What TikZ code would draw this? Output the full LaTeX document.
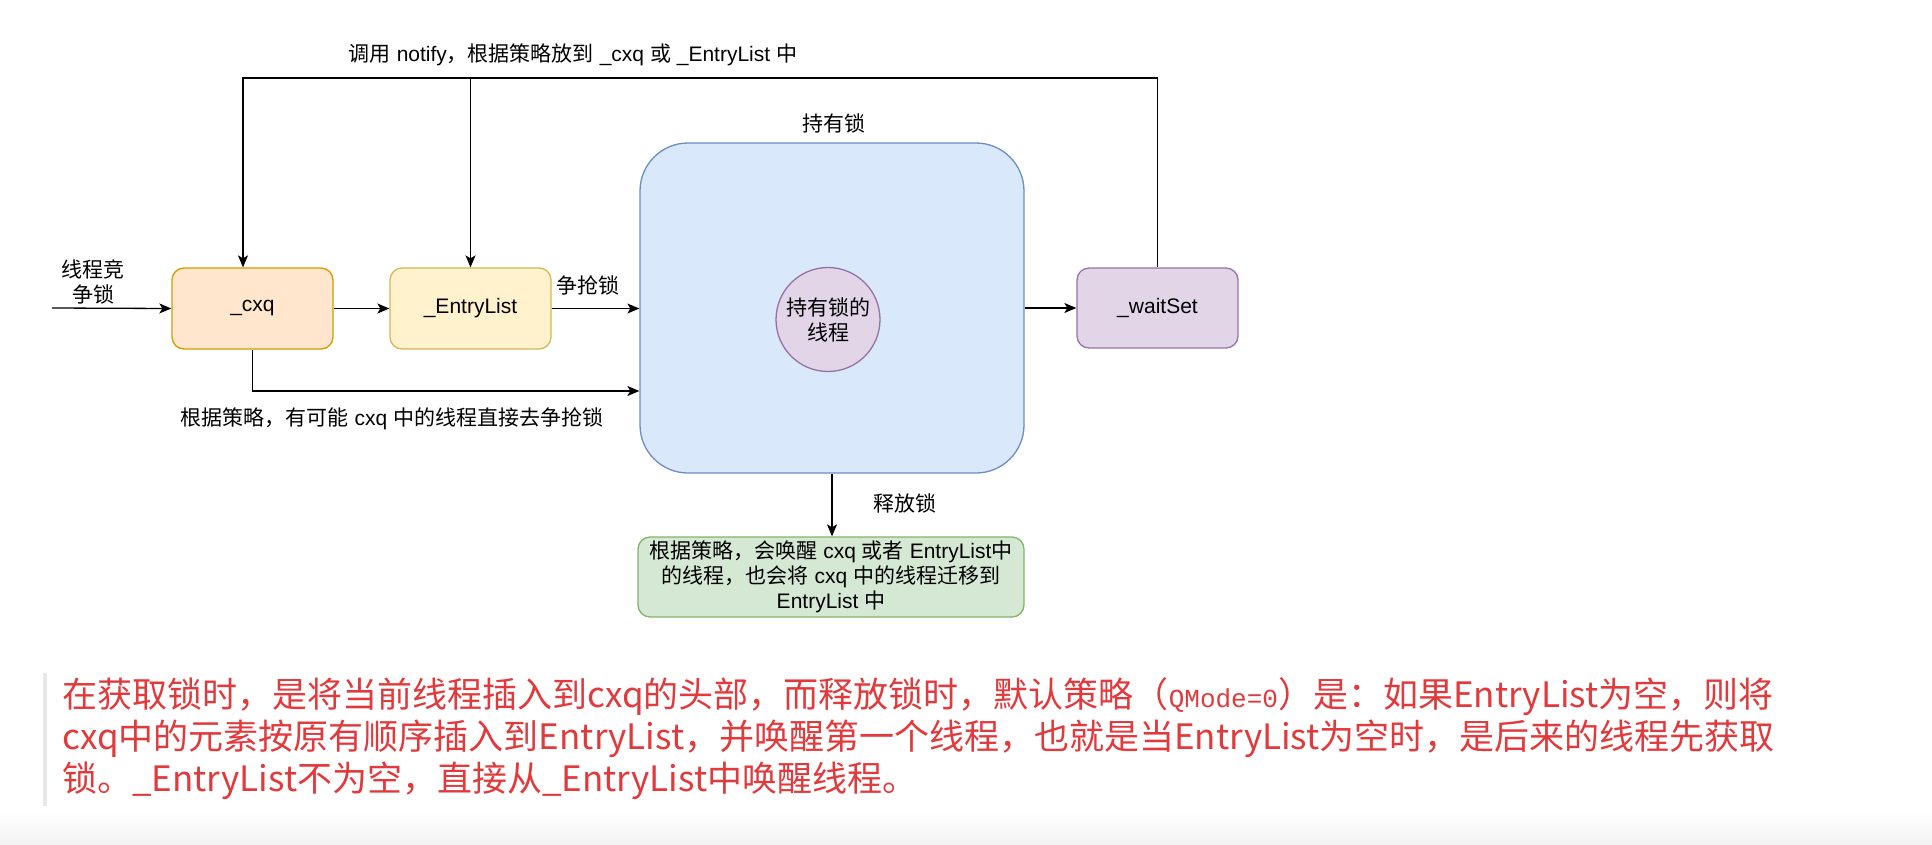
\documentclass[tikz,border=0pt]{standalone}
\usepackage{fontspec}
\setmainfont{Liberation Sans}
\newfontfamily\cjk{Noto Sans CJK SC}
\newfontfamily\monof{Liberation Mono}
\usetikzlibrary{arrows.meta,calc}
\newcommand\zh[1]{{\cjk #1}}
\definecolor{cxqfill}{HTML}{FFE6CC}
\definecolor{cxqdraw}{HTML}{D79B00}
\definecolor{elfill}{HTML}{FFF2CC}
\definecolor{eldraw}{HTML}{D6B656}
\definecolor{bigfill}{HTML}{DAE8FC}
\definecolor{bigdraw}{HTML}{6C8EBF}
\definecolor{purfill}{HTML}{E1D5E7}
\definecolor{purdraw}{HTML}{9673A6}
\definecolor{grfill}{HTML}{D5E8D4}
\definecolor{grdraw}{HTML}{82B366}
\definecolor{redtext}{HTML}{E2393C}
\tikzset{
  box/.style={rounded corners=12pt, line width=1.3pt, inner sep=0pt, align=center},
  lbl/.style={inner sep=0pt, align=center},
  conn/.style={line width=1.3pt, -{Stealth[length=12pt,width=10pt,inset=3pt]}},
  redline/.style={inner sep=0pt, anchor=west, text=redtext, font=\fontsize{35}{42}\selectfont\cjk},
}
\begin{document}
\begin{tikzpicture}[x=1pt,y=-1pt,font=\fontsize{21}{25}\selectfont]
\useasboundingbox (0,0) rectangle (1932,844);
\shade[top color=white,bottom color=black!5] (0,812) rectangle (1932,844);

% nodes
\node[box, fill=cxqfill, draw=cxqdraw, minimum width=161pt, minimum height=81pt] (cxq) at (252.5,308.5) {\_cxq};
\node[box, fill=elfill, draw=eldraw, minimum width=161pt, minimum height=81pt] (el) at (470.5,308.5) {\_EntryList};
\node[draw=bigdraw, fill=bigfill, line width=1.3pt, rounded corners=48pt, minimum width=384pt, minimum height=330pt, inner sep=0pt] (big) at (832,308) {};
\node[circle, fill=purfill, draw=purdraw, line width=1.3pt, minimum size=104pt, inner sep=0pt, align=center] (hold) at (828,319.5) {\zh{持有锁的}\\\zh{线程}};
\node[box, fill=purfill, draw=purdraw, minimum width=161pt, minimum height=80pt] (ws) at (1157.5,308) {\_waitSet};
\node[box, fill=grfill, draw=grdraw, minimum width=386pt, minimum height=80pt] (rel) at (831,577) {\zh{根据策略，会唤醒} cxq \zh{或者} EntryList\zh{中}\\\zh{的线程，也会将} cxq \zh{中的线程迁移到}\\EntryList \zh{中}};

% labels
\node[lbl] (topl) at (573,55) {\zh{调用} notify\zh{，根据策略放到} \_cxq \zh{或} \_EntryList \zh{中}};
\node[lbl] (holdl) at (834,123) {\zh{持有锁}};
\node[lbl] (inl) at (93,282) {\zh{线程竞}\\\zh{争锁}};
\node[lbl] (grabl) at (588,285) {\zh{争抢锁}};
\node[lbl] (directl) at (392,419) {\zh{根据策略，有可能} cxq \zh{中的线程直接去争抢锁}};
\node[lbl] (rell) at (905,503) {\zh{释放锁}};

% connectors
\coordinate (in) at (52,308);
\coordinate (tl) at (243,78);
\draw[conn] (in) -- (cxq.west);
\draw[conn] (cxq) -- (el);
\draw[conn] (el.east) -- (el.east -| big.west);
\draw[conn] (cxq.south) |- ($(big.west)+(0,83)$);
\draw[conn] (big.east) -- (ws.west);
\draw[conn] (ws.north) |- (tl) -- (tl |- cxq.north);
\draw[conn] (tl -| el.north) -- (el.north);
\draw[conn] (big.south) -- (big.south |- rel.north);

% quote block
\fill[black!9] (43,673) rectangle (47,806);
\node[redline] (p1) at (62,697) {在获取锁时，是将当前线程插入到cxq的头部，而释放锁时，默认策略（{\monof\fontsize{26}{30}\selectfont QMode=0}）是：如果EntryList为空，则将};
\node[redline] (p2) at (62,739) {cxq中的元素按原有顺序插入到EntryList，并唤醒第一个线程，也就是当EntryList为空时，是后来的线程先获取};
\node[redline] (p3) at (62,781) {锁。\_EntryList不为空，直接从\_EntryList中唤醒线程。};
\end{tikzpicture}
\end{document}
